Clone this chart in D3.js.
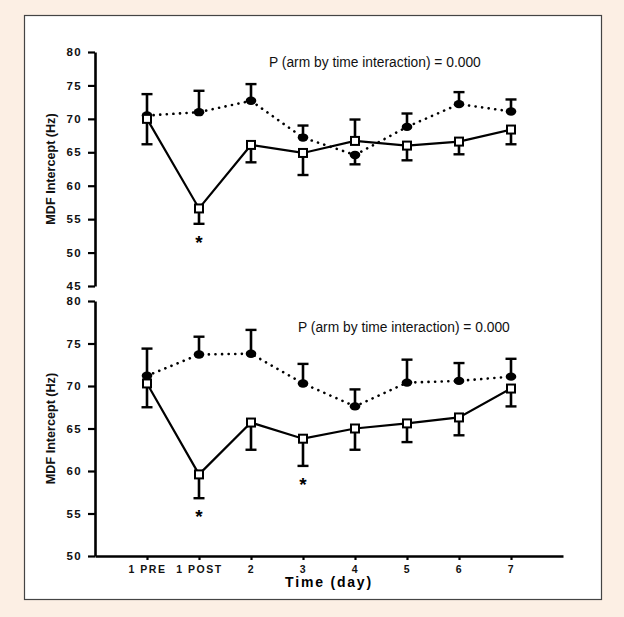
<!DOCTYPE html>
<html><head><meta charset="utf-8">
<script src="https://cdn.jsdelivr.net/npm/d3@7"></script>
<style>
html,body{margin:0;padding:0;background:#fcefe4;}
svg{display:block;}
</style></head>
<body>
<svg id="chart" width="624" height="617"></svg>
<script>
const categories = ["1 PRE","1 POST","2","3","4","5","6","7"];

// Top panel
const topSolid      = [70.0, 56.6, 66.1, 64.9, 66.7, 66.0, 66.6, 68.4];
const topSolidErr   = [66.2, 54.3, 63.5, 61.6, 69.9, 63.8, 64.7, 66.2];
const topDotted     = [70.5, 71.0, 72.7, 67.2, 64.6, 68.8, 72.2, 71.1];
const topDottedErr  = [73.7, 74.2, 75.2, 69.0, 63.2, 70.8, 74.0, 72.9];
const topTicks      = [45, 50, 55, 60, 65, 70, 75, 80];
const topStars      = ["1 POST"];

// Bottom panel
const botSolid      = [70.3, 59.6, 65.7, 63.8, 65.0, 65.6, 66.3, 69.7];
const botSolidErr   = [67.5, 56.8, 62.5, 60.6, 62.5, 63.4, 64.2, 67.6];
const botDotted     = [71.2, 73.7, 73.8, 70.3, 67.6, 70.4, 70.6, 71.1];
const botDottedErr  = [74.4, 75.8, 76.6, 72.6, 69.6, 73.1, 72.7, 73.2];
const botTicks      = [50, 55, 60, 65, 70, 75, 80];
const botStars      = ["1 POST", "3"];

const pText = "P (arm by time interaction) = 0.000";
const yTitle = "MDF Intercept (Hz)";
const xTitle = "Time (day)";

const FONT = "Liberation Sans, Arial, sans-serif";
const svg = d3.select("#chart");
svg.append("rect").attr("x",0).attr("y",0).attr("width",624).attr("height",617).attr("fill","#fcefe4");
svg.append("rect").attr("x",24.5).attr("y",15.5).attr("width",577).attr("height",584)
  .attr("fill","#fff").attr("stroke","#444").attr("stroke-width",1.2);

const x = d3.scalePoint().domain(categories).range([95, 563]).padding(1);

function panel(cfg){
  const y = d3.scaleLinear().domain([cfg.ymin, cfg.ymax]).range([cfg.y0, cfg.y1]);
  const g = svg.append("g");
  // y axis
  const ya = g.append("g").attr("transform","translate(95,0)")
    .call(d3.axisLeft(y).tickValues(cfg.ticks).tickSize(7).tickPadding(6).tickSizeOuter(0));
  ya.select(".domain").attr("stroke","#000").attr("stroke-width",2.6);
  ya.selectAll(".tick line").attr("stroke","#000").attr("stroke-width",2.2);
  ya.selectAll(".tick text").attr("font-family",FONT)
    .attr("font-weight","bold").attr("font-size",11.5).attr("letter-spacing","1.3px").attr("fill","#111");
  if (cfg.xaxis){
    const xa = g.append("g").attr("transform",`translate(0,${cfg.y0})`)
      .call(d3.axisBottom(x).tickSize(4).tickPadding(6).tickSizeOuter(0));
    xa.select(".domain").attr("stroke","#000").attr("stroke-width",2.6);
    xa.selectAll(".tick line").attr("stroke","#000").attr("stroke-width",2.2);
    xa.selectAll(".tick text").attr("font-family",FONT)
      .attr("font-weight","bold").attr("font-size",10.5).attr("letter-spacing","1.5px").attr("fill","#111");
    g.append("text").attr("x",329).attr("y",cfg.y0+31).attr("text-anchor","middle")
      .attr("font-family",FONT).attr("font-weight","bold")
      .attr("font-size",14).attr("letter-spacing","1.8px").text(xTitle);
  }
  // y title
  g.append("text").attr("transform",`translate(55,${(cfg.y0+cfg.y1)/2}) rotate(-90)`)
    .attr("text-anchor","middle").attr("font-family",FONT)
    .attr("font-weight","bold").attr("font-size",12.6).attr("fill","#111").text(yTitle);
  // P text
  g.append("text").attr("x",cfg.px).attr("y",cfg.py).attr("font-family",FONT)
    .attr("font-size",13.8).attr("fill","#111").text(pText);

  // error bars
  function errbars(vals, errs){
    categories.forEach((c,i)=>{
      const cx = x(c);
      g.append("line").attr("x1",cx).attr("x2",cx).attr("y1",y(vals[i])).attr("y2",y(errs[i]))
        .attr("stroke","#000").attr("stroke-width",2.6);
      g.append("line").attr("x1",cx-5.5).attr("x2",cx+5.5).attr("y1",y(errs[i])).attr("y2",y(errs[i]))
        .attr("stroke","#000").attr("stroke-width",2.4);
    });
  }
  errbars(cfg.dotted, cfg.dottedErr);
  errbars(cfg.solid, cfg.solidErr);

  const line = d3.line().x((d,i)=>x(categories[i])).y(d=>y(d));
  g.append("path").datum(cfg.dotted).attr("d",line).attr("fill","none").attr("stroke","#000")
    .attr("stroke-width",2.6).attr("stroke-dasharray","0.1,6.5").attr("stroke-linecap","round");
  g.append("path").datum(cfg.solid).attr("d",line).attr("fill","none").attr("stroke","#000")
    .attr("stroke-width",2.2);

  g.selectAll(null).data(cfg.dotted).enter().append("ellipse")
    .attr("cx",(d,i)=>x(categories[i])).attr("cy",d=>y(d)).attr("rx",5.3).attr("ry",4.2).attr("fill","#000");
  g.selectAll(null).data(cfg.solid).enter().append("rect")
    .attr("x",(d,i)=>x(categories[i])-4).attr("y",d=>y(d)-4).attr("width",8).attr("height",8)
    .attr("fill","#fff").attr("stroke","#000").attr("stroke-width",2);

  cfg.stars.forEach(s=>{
    const i = categories.indexOf(s);
    g.append("text").attr("x",x(s)).attr("y",y(cfg.solidErr[i])+25).attr("text-anchor","middle")
      .attr("font-family",FONT).attr("font-weight","bold")
      .attr("font-size",19).text("*");
  });
}

panel({ymin:45, ymax:80, y0:286, y1:52, ticks:topTicks, xaxis:false,
  solid:topSolid, solidErr:topSolidErr, dotted:topDotted, dottedErr:topDottedErr, stars:topStars,
  px:269, py:67});
panel({ymin:50, ymax:80, y0:556, y1:301, ticks:botTicks, xaxis:true,
  solid:botSolid, solidErr:botSolidErr, dotted:botDotted, dottedErr:botDottedErr, stars:botStars,
  px:298, py:332});
</script>
</body></html>
